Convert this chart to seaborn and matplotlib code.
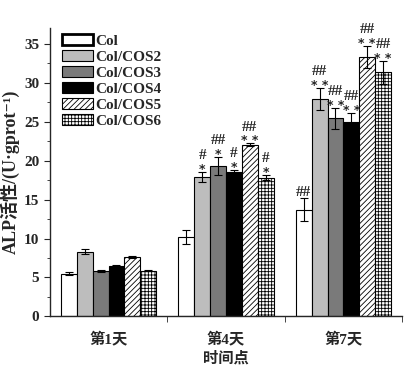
#!/usr/bin/env python3
"""
ALP activity of Col and Col/COS scaffolds at day 1, 4 and 7.
"""
import numpy as np
import pandas as pd
import matplotlib
matplotlib.use("Agg")
import matplotlib.pyplot as plt
from matplotlib.patches import Patch
from matplotlib.ticker import MultipleLocator
import seaborn as sns

# data
days = ["第1天", "第4天", "第7天"]
groups = ["Col", "Col/COS2", "Col/COS3", "Col/COS4", "Col/COS5", "Col/COS6"]
values = {
    "Col":      [5.5, 10.2, 13.7],
    "Col/COS2": [8.3, 17.9, 27.9],
    "Col/COS3": [5.85, 19.3, 25.4],
    "Col/COS4": [6.5, 18.5, 24.9],
    "Col/COS5": [7.6, 22.0, 33.3],
    "Col/COS6": [5.85, 17.8, 31.3],
}
errors = {
    "Col":      [0.2, 0.9, 1.5],
    "Col/COS2": [0.3, 0.65, 1.4],
    "Col/COS3": [0.1, 1.15, 1.3],
    "Col/COS4": [0.05, 0.25, 1.2],
    "Col/COS5": [0.15, 0.2, 1.4],
    "Col/COS6": [0.05, 0.35, 1.45],
}
stars = {
    "Col":      ["", "", ""],
    "Col/COS2": ["", "*", "* *"],
    "Col/COS3": ["", "*", "* *"],
    "Col/COS4": ["", "*", "* *"],
    "Col/COS5": ["", "* *", "* *"],
    "Col/COS6": ["", "*", "* *"],
}
hashes = {
    "Col":      ["", "", "##"],
    "Col/COS2": ["", "#", "##"],
    "Col/COS3": ["", "##", "##"],
    "Col/COS4": ["", "#", "##"],
    "Col/COS5": ["", "##", "##"],
    "Col/COS6": ["", "#", "##"],
}

# styles
faces = {"Col": "white", "Col/COS2": "#bdbdbd", "Col/COS3": "#7a7a7a",
         "Col/COS4": "black", "Col/COS5": "white", "Col/COS6": "white"}
hatch = {"Col/COS5": "//////", "Col/COS6": "+++++"}

rows = []
for g in groups:
    for i, d in enumerate(days):
        rows.append({"day": d, "group": g, "value": values[g][i]})
df = pd.DataFrame(rows)

sns.set_style("ticks")
plt.rcParams["font.family"] = ["Liberation Serif", "Noto Sans CJK SC", "DejaVu Serif"]
plt.rcParams["font.weight"] = "bold"
plt.rcParams["hatch.linewidth"] = 0.6
plt.rcParams["axes.linewidth"] = 1.0

fig = plt.figure(figsize=(4.12, 3.68), dpi=100)
ax = fig.add_axes([0.121, 0.140, 0.855, 0.784])

sns.barplot(data=df, x="day", y="value", hue="group", order=days,
            hue_order=groups, errorbar=None, width=0.81, gap=0,
            edgecolor="black", linewidth=0.8, legend=False, ax=ax)

for g, cont in zip(groups, ax.containers):
    for i, bar in enumerate(cont):
        bar.set_facecolor(faces[g])
        bar.set_edgecolor("black")
        if g in hatch:
            bar.set_hatch(hatch[g])
        x = bar.get_x() + bar.get_width() / 2
        top = values[g][i] + errors[g][i]
        ax.errorbar(x, values[g][i], yerr=errors[g][i], color="black",
                    elinewidth=0.8, capsize=3, capthick=0.8, zorder=5)
        if stars[g][i]:
            ax.text(x, top - 0.1, stars[g][i], ha="center", va="baseline",
                    fontsize=9, fontweight="bold", family="DejaVu Sans")
            hy = top + 1.65
        else:
            hy = top + 0.25
        if hashes[g][i]:
            ax.text(x, hy, hashes[g][i], ha="center", va="baseline",
                    fontsize=11, fontweight="bold")

ax.set_xlim(-0.5, 2.5)
ax.set_ylim(0, 37)
ax.yaxis.set_major_locator(MultipleLocator(5))
ax.yaxis.set_minor_locator(MultipleLocator(2.5))
ax.set_xticks([0, 1, 2])
ax.set_xticklabels(days, fontsize=11, fontweight="bold")
ax.set_xticks([0.5, 1.5, 2.5], minor=True)
ax.tick_params(axis="x", which="major", length=0, pad=11)
ax.tick_params(axis="x", which="minor", length=4, direction="out")
ax.tick_params(axis="y", which="major", length=4, labelsize=11)
ax.tick_params(axis="y", which="minor", length=2.5)
for lab in ax.get_yticklabels():
    lab.set_fontweight("bold")
sns.despine(ax=ax)

ax.set_xlabel("时间点", fontsize=11, fontweight="bold", labelpad=3)
ax.set_ylabel("ALP活性/(U·gprot⁻¹)", fontsize=13, fontweight="bold", labelpad=3)

handles = []
for g in groups:
    lw = 2.0 if g == "Col" else 0.8
    handles.append(Patch(facecolor=faces[g], edgecolor="black", linewidth=lw,
                         hatch=hatch.get(g, None), label=g))
ax.legend(handles=handles, loc="upper left", bbox_to_anchor=(0.017, 1.0),
          frameon=False, handlelength=2.0, handleheight=0.7,
          handletextpad=0.2, labelspacing=0.15, borderaxespad=0.0,
          prop={"weight": "bold", "size": 11})

fig.savefig("out.png", dpi=100)
